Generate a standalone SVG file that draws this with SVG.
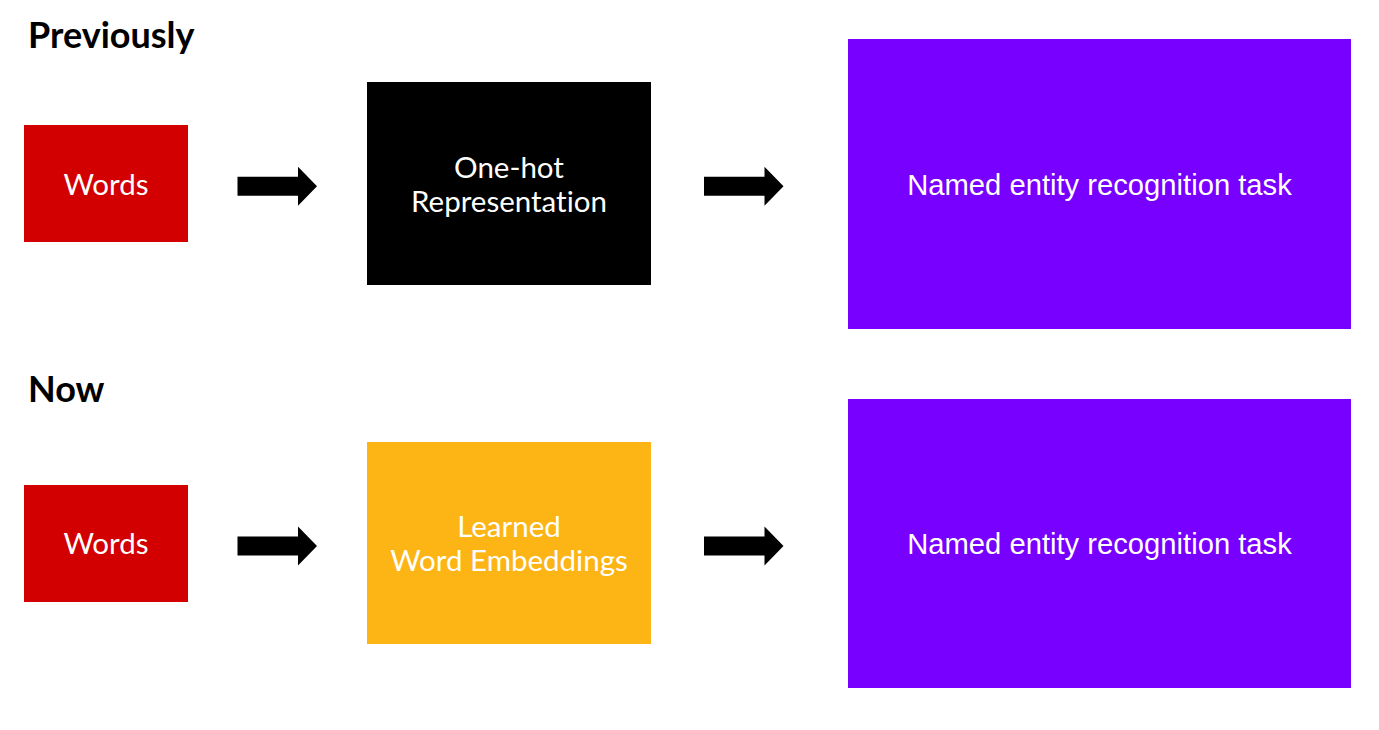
<svg xmlns="http://www.w3.org/2000/svg" width="1379" height="730" viewBox="0 0 1379 730">
<defs>
<style>
.title{font-family:Lato,"Liberation Sans",sans-serif;font-weight:bold;font-size:36px;fill:#000}
.lato{font-family:Lato,"Liberation Sans",sans-serif;font-size:29.5px;fill:#fff;text-anchor:middle;font-variant-ligatures:none}
.arial{font-family:"Liberation Sans",Arial,sans-serif;font-size:29.2px;fill:#fff;text-anchor:middle}
.red{fill:#D20000}
.blk{fill:#000}
.gold{fill:#FDB515}
.purple{fill:#7700FF}
.arrow{fill:#000}
</style>
<path id="arr" d="M0,-9.5 H60.5 V-19.5 L79.5,0 L60.5,19.5 V9.5 H0 Z"/>
</defs>
<rect width="1379" height="730" fill="#fff"/>
<text class="title" x="28" y="48">Previously</text>
<text class="title" x="28" y="402">Now</text>
<g id="words1"><rect class="red" x="24" y="125" width="164" height="117"/><text class="lato" x="106" y="194.5">Words</text></g>
<g id="onehot"><rect class="blk" x="367" y="82" width="284" height="203"/><text class="lato" x="509" y="177.5">One-hot</text><text class="lato" x="509" y="211.5">Representation</text></g>
<g id="ner1"><rect class="purple" x="848" y="39" width="503" height="290"/><text class="arial" x="1099.5" y="194.5">Named entity recognition task</text></g>
<g id="words2"><rect class="red" x="24" y="485" width="164" height="117"/><text class="lato" x="106" y="553.5">Words</text></g>
<g id="embed"><rect class="gold" x="367" y="442" width="284" height="202"/><text class="lato" x="509" y="536.5">Learned</text><text class="lato" x="509" y="570.5">Word Embeddings</text></g>
<g id="ner2"><rect class="purple" x="848" y="399" width="503" height="289"/><text class="arial" x="1099.5" y="553.5">Named entity recognition task</text></g>
<g id="connectors" class="arrow">
<use href="#arr" x="237.5" y="186.3"/>
<use href="#arr" x="704" y="186.3"/>
<use href="#arr" x="237.5" y="546"/>
<use href="#arr" x="704" y="546"/>
</g>
</svg>
